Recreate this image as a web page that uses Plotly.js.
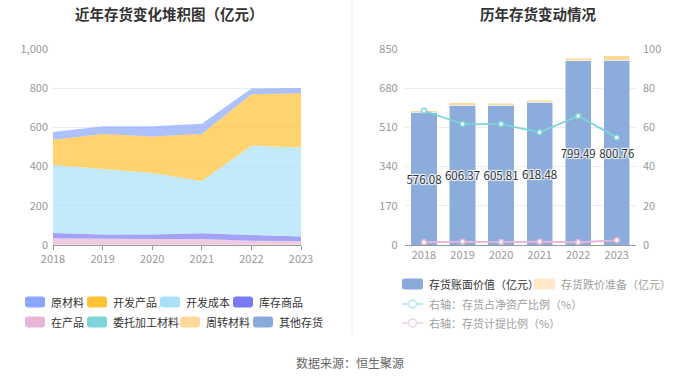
<!DOCTYPE html>
<html>
<head>
<meta charset="utf-8">
<script src="https://cdn.plot.ly/plotly-3.0.1.min.js"></script>
<style>
  html, body { margin: 0; padding: 0; background: #fff; }
  #chart { width: 700px; height: 378px; }
</style>
</head>
<body>
<div id="chart"></div>
<script>
// ---------- data ----------
const years = [2018, 2019, 2020, 2021, 2022, 2023];
const yearLabels = ['2018', '2019', '2020', '2021', '2022', '2023'];

// left: stacked inventory composition (亿元)
const rawMaterial   = [39, 40, 53, 52, 30, 27];       // 原材料
const devProducts   = [129, 178, 186, 239, 262, 277]; // 开发产品
const devCost       = [347, 334, 313, 267, 456, 454]; // 开发成本
const stockGoods    = [27, 23, 23, 29, 29, 23];       // 库存商品
const wip           = [31, 28, 28, 28, 19, 17];       // 在产品
const consigned     = [0, 0, 0, 0, 0, 0];             // 委托加工材料
const turnover      = [3, 3, 3, 3, 3, 3];             // 周转材料
const otherInv      = [0, 0, 0, 0, 0, 0];             // 其他存货

// right: book value, provision, ratios
const bookValue     = [576.08, 606.37, 605.81, 618.48, 799.49, 800.76];
const provision     = [7, 11, 9, 10, 11, 20];
const ratioNetAsset = [68.5, 61.7, 61.7, 57.5, 65.8, 54.9];
const ratioProvision= [1.4, 1.7, 1.5, 1.7, 1.4, 2.4];

const leftTicks  = [0, 200, 400, 600, 800, 1000];
const rightTicksL = [0, 170, 340, 510, 680, 850];
const rightTicksR = [0, 20, 40, 60, 80, 100];

const leftNames = ['原材料', '开发产品', '开发成本', '库存商品', '在产品', '委托加工材料', '周转材料', '其他存货'];
const leftColors = ['#8AA6FF', '#FFC233', '#A8E1FA', '#7A7AF2', '#E7B5D8', '#7DD5D9', '#FFD89C', '#8AAADB'];
const leftSeries = [rawMaterial, devProducts, devCost, stockGoods, wip, consigned, turnover, otherInv];

const rightNames = ['存货账面价值（亿元）', '存货跌价准备（亿元）', '右轴：存货占净资产比例（%）', '右轴：存货计提比例（%）'];

// ---------- helpers ----------
const W = 700, H = 378;
const px = x => x / W;
const py = y => 1 - y / H;
function rgba(hex, a) {
  const n = parseInt(hex.slice(1), 16);
  return `rgba(${(n >> 16) & 255},${(n >> 8) & 255},${n & 255},${a})`;
}
function roundRect(x, y, w, h, r) {
  const X = v => px(v), Y = v => py(v);
  return `M${X(x + r)},${Y(y)} L${X(x + w - r)},${Y(y)} Q${X(x + w)},${Y(y)} ${X(x + w)},${Y(y + r)} ` +
         `L${X(x + w)},${Y(y + h - r)} Q${X(x + w)},${Y(y + h)} ${X(x + w - r)},${Y(y + h)} ` +
         `L${X(x + r)},${Y(y + h)} Q${X(x)},${Y(y + h)} ${X(x)},${Y(y + h - r)} ` +
         `L${X(x)},${Y(y + r)} Q${X(x)},${Y(y)} ${X(x + r)},${Y(y)} Z`;
}

const FONT = '"Noto Sans CJK SC", "Noto Sans", sans-serif';
const traces = [];

// stacked areas (bottom first)
const stackOrder = [7, 6, 5, 4, 3, 2, 1, 0];
stackOrder.forEach(i => {
  traces.push({
    type: 'scatter', mode: 'lines', x: years, y: leftSeries[i], name: leftNames[i],
    stackgroup: 'inv', line: { width: 0, color: leftColors[i] },
    fillcolor: rgba(leftColors[i], 0.7), xaxis: 'x', yaxis: 'y', showlegend: false,
    hoverinfo: 'x+y+name'
  });
});

// bars
traces.push({
  type: 'bar', x: yearLabels, y: bookValue, name: rightNames[0], xaxis: 'x2', yaxis: 'y2',
  marker: { color: '#8CACDB', line: { color: '#ffffff', width: 0.5 } },
  texttemplate: '%{y:.2f}', textposition: 'inside', insidetextanchor: 'middle',
  textangle: 0, constraintext: 'none',
  textfont: { family: FONT, size: 11.5, color: '#333333', shadow: '1px 1px 1px #fff, -1px -1px 1px #fff, 1px -1px 1px #fff, -1px 1px 1px #fff' },
  showlegend: false
});
traces.push({
  type: 'bar', x: yearLabels, y: provision, name: rightNames[1], xaxis: 'x2', yaxis: 'y2',
  marker: { color: '#FDDA98', line: { color: '#ffffff', width: 0.5 } },
  showlegend: false
});
traces.push({
  type: 'scatter', mode: 'lines+markers', x: yearLabels, y: ratioNetAsset, name: rightNames[2],
  xaxis: 'x2', yaxis: 'y3', line: { color: '#7DD5D8', width: 1.8 },
  marker: { symbol: 'circle', size: 5, color: '#ffffff', line: { color: '#7DD5D8', width: 1.5 } },
  showlegend: false
});
traces.push({
  type: 'scatter', mode: 'lines+markers', x: yearLabels, y: ratioProvision, name: rightNames[3],
  xaxis: 'x2', yaxis: 'y3', line: { color: '#E7B5D8', width: 1.8 },
  marker: { symbol: 'circle', size: 5, color: '#ffffff', line: { color: '#E7B5D8', width: 1.5 } },
  showlegend: false
});

// ---------- layout ----------
const yDom = [py(245), py(49)];
const tickFont = { family: FONT, size: 11, color: '#999999' };
const gridColor = '#E9ECF4';

const shapes = [];
const annotations = [];

// divider
shapes.push({ type: 'line', xref: 'paper', yref: 'paper', x0: px(352), x1: px(352), y0: py(0), y1: py(335), line: { color: '#F0F0F0', width: 1 } });

// titles
annotations.push({ xref: 'paper', yref: 'paper', x: px(169), y: py(13), xanchor: 'center', yanchor: 'middle', showarrow: false,
  text: '<b>近年存货变化堆积图（亿元）</b>', font: { family: FONT, size: 14.5, color: '#333333' } });
annotations.push({ xref: 'paper', yref: 'paper', x: px(538), y: py(13), xanchor: 'center', yanchor: 'middle', showarrow: false,
  text: '<b>历年存货变动情况</b>', font: { family: FONT, size: 14.5, color: '#333333' } });

// footer
annotations.push({ xref: 'paper', yref: 'paper', x: px(350), y: py(362), xanchor: 'center', yanchor: 'middle', showarrow: false,
  text: '数据来源：恒生聚源', font: { family: FONT, size: 12, color: '#666666' } });

// left legend
const legPos = [[25, 302], [87, 302], [160, 302], [233, 302], [25, 322], [87, 322], [180, 322], [253, 322]];
leftNames.forEach((nm, i) => {
  const [lx, ly] = legPos[i];
  shapes.push({ type: 'path', xref: 'paper', yref: 'paper', path: roundRect(lx, ly - 5.5, 20, 11, 3), fillcolor: leftColors[i], line: { width: 0 } });
  annotations.push({ xref: 'paper', yref: 'paper', x: px(lx + 24), y: py(ly), xanchor: 'left', yanchor: 'middle', showarrow: false,
    text: nm, font: { family: FONT, size: 11, color: '#333333' } });
});

// right legend
const rLeg = [[402, 284], [534, 284], [402, 304], [402, 323]];
shapes.push({ type: 'path', xref: 'paper', yref: 'paper', path: roundRect(402, 284 - 5.5, 21, 11, 3), fillcolor: '#8AAAD9', line: { width: 0 } });
shapes.push({ type: 'path', xref: 'paper', yref: 'paper', path: roundRect(534, 284 - 5.5, 21, 11, 3), fillcolor: '#FFE9C8', line: { width: 0 } });
[['#B5E8EA', 304], ['#F2D5E8', 323]].forEach(([c, y]) => {
  shapes.push({ type: 'line', xref: 'paper', yref: 'paper', x0: px(402), x1: px(423), y0: py(y), y1: py(y), line: { color: c, width: 1.8 } });
  shapes.push({ type: 'circle', xref: 'paper', yref: 'paper', x0: px(408.5), x1: px(416.5), y0: py(y + 4), y1: py(y - 4), fillcolor: '#ffffff', line: { color: c, width: 1.5 } });
});
rightNames.forEach((nm, i) => {
  const [lx, ly] = rLeg[i];
  annotations.push({ xref: 'paper', yref: 'paper', x: px(lx + 25), y: py(ly), xanchor: 'left', yanchor: 'middle', showarrow: false,
    text: nm, font: { family: FONT, size: 11, color: i === 0 ? '#333333' : '#A0A0A0' } });
});

const layout = {
  width: W, height: H,
  margin: { l: 0, r: 0, t: 0, b: 0 },
  paper_bgcolor: '#ffffff', plot_bgcolor: 'rgba(0,0,0,0)',
  font: { family: FONT },
  showlegend: false,
  barmode: 'stack', bargap: 0.32,
  xaxis: {
    domain: [px(53), px(301)], anchor: 'y', range: [2018, 2023],
    tickvals: years, ticktext: yearLabels, tickfont: tickFont,
    showgrid: false, zeroline: false, showline: true, linecolor: '#9a9a9a', linewidth: 1,
    ticks: 'outside', ticklen: 4, tickcolor: '#9a9a9a', fixedrange: true
  },
  yaxis: {
    domain: yDom, anchor: 'x', range: [0, 1000], tickvals: leftTicks, tickformat: ',d',
    tickfont: tickFont, showgrid: true, gridcolor: gridColor, zeroline: false, showline: false,
    ticklabelstandoff: 4, fixedrange: true
  },
  xaxis2: {
    domain: [px(404.7), px(636)], anchor: 'y2', type: 'category',
    tickfont: tickFont, showgrid: false, zeroline: false, showline: true, linecolor: '#9a9a9a', linewidth: 1,
    ticks: '', fixedrange: true
  },
  yaxis2: {
    domain: yDom, anchor: 'x2', range: [0, 850], tickvals: rightTicksL,
    tickfont: tickFont, showgrid: true, gridcolor: gridColor, zeroline: false, showline: false,
    ticklabelstandoff: 6, fixedrange: true
  },
  yaxis3: {
    domain: yDom, anchor: 'x2', overlaying: 'y2', side: 'right', range: [0, 100], tickvals: rightTicksR,
    tickfont: tickFont, showgrid: false, zeroline: false, showline: false,
    ticklabelstandoff: 6, fixedrange: true
  },
  shapes: shapes,
  annotations: annotations
};

Plotly.newPlot('chart', traces, layout, { staticPlot: true, displayModeBar: false });
</script>
</body>
</html>
